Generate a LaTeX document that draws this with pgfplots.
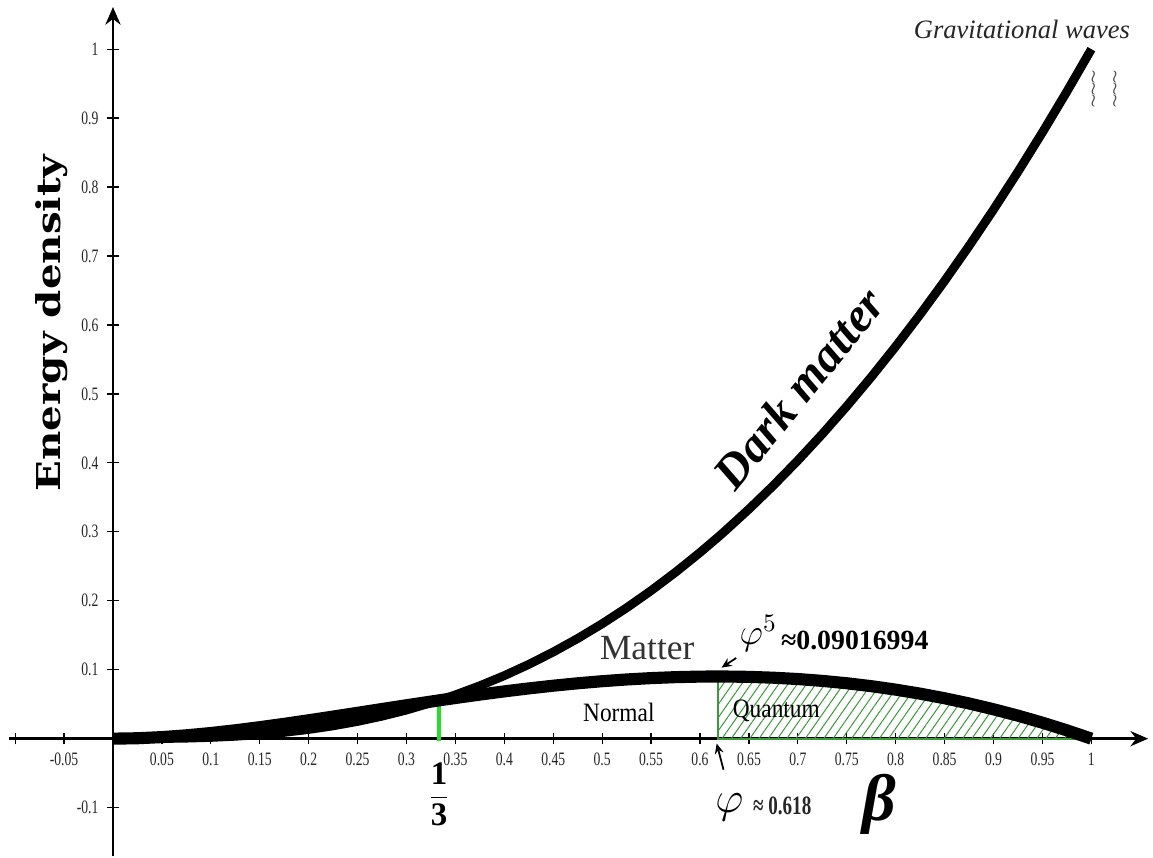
\documentclass[border=0pt]{standalone}
\usepackage{pgfplots}
\pgfplotsset{compat=1.18}
\usepackage{pgfplotstable}
\usepackage{fontspec}
\setmainfont{Liberation Serif}
\newfontfamily\narrowfont[FakeStretch=0.72]{Liberation Serif}
\newfontfamily\condfont[FakeStretch=0.88]{Liberation Serif}
\newfontfamily\ylabfont[FakeStretch=1.23]{DejaVu Serif}
\usetikzlibrary{arrows.meta,patterns.meta}
\definecolor{hatch}{HTML}{3A9A3A}
\definecolor{lime}{HTML}{22E022}

% b = beta, M = matter, D = dark matter
\pgfplotstableread{
b        M         D
0        0         0
0.025    0.000595  0.000030
0.05     0.002262  0.000238
0.075    0.004840  0.000785
0.1      0.008182  0.001818
0.125    0.012153  0.003472
0.15     0.016630  0.005870
0.175    0.021503  0.009122
0.2      0.026667  0.013333
0.225    0.032028  0.018597
0.25     0.037500  0.025000
0.275    0.043002  0.032623
0.3      0.048462  0.041538
0.33333  0.055556  0.055556
0.35     0.058981  0.063519
0.375    0.063920  0.076705
0.4      0.068571  0.091429
0.425    0.072884  0.107741
0.45     0.076810  0.125690
0.475    0.080308  0.145318
0.5      0.083333  0.166667
0.525    0.085850  0.189775
0.55     0.087823  0.214677
0.575    0.089216  0.241409
0.6      0.090000  0.270000
0.618034 0.090170  0.291796
0.625    0.090144  0.300481
0.65     0.089621  0.332879
0.675    0.088405  0.367220
0.7      0.086471  0.403529
0.725    0.083795  0.441830
0.75     0.080357  0.482143
0.775    0.076135  0.524489
0.8      0.071111  0.568889
0.825    0.065266  0.615360
0.85     0.058581  0.663919
0.875    0.051042  0.714583
0.9      0.042632  0.767368
0.925    0.033336  0.822289
0.95     0.023141  0.879359
0.975    0.012033  0.938592
1        0         1
}\curves

\begin{document}
\begin{tikzpicture}
\begin{axis}[
    scale only axis,
    width=16cm, height=11.893cm,
    xmin=-0.1142, xmax=1.0617,
    ymin=-0.1708, ymax=1.0695,
    axis lines=middle,
    axis line style={line width=1pt},
    x axis line style={shorten <=0.11cm, shorten >=0.05cm, -{Stealth[length=7pt,width=6pt]}},
    y axis line style={shorten >=0.08cm, -{Stealth[length=7pt,width=6pt]}},
    xtick={-0.05,0.05,0.1,0.15,0.2,0.25,0.3,0.35,0.4,0.45,0.5,0.55,0.6,0.65,0.7,0.75,0.8,0.85,0.9,0.95,1},
    xticklabels={-0.05,0.05,0.1,0.15,0.2,0.25,0.3,0.35,0.4,0.45,0.5,0.55,0.6,0.65,0.7,0.75,0.8,0.85,0.9,0.95,1},
    extra x ticks={-0.1}, extra x tick labels={},
    ytick={-0.1,0.1,0.2,0.3,0.4,0.5,0.6,0.7,0.8,0.9,1},
    yticklabels={-0.1,0.1,0.2,0.3,0.4,0.5,0.6,0.7,0.8,0.9,1},
    tick align=center,
    major tick length=4.5pt,
    tick style={black, line width=0.5pt},
    xticklabel style={font=\narrowfont\fontsize{7.5}{8}\selectfont, text=black!85},
    yticklabel style={font=\narrowfont\fontsize{7.5}{8}\selectfont, text=black!85},
    clip=false,
]
% quantum region
\addplot[draw=none, mark=none, pattern={Lines[angle=55,distance=3pt,line width=0.4pt]}, pattern color=hatch]
    table[x=b, y=M, restrict x to domain=0.618:1.01] {\curves} \closedcycle;
\addplot[hatch, line width=0.8pt, mark=none] coordinates {(0.618034,0.0902) (0.618034,0) (0.985,0)};
\addplot[lime, line width=1.3pt, mark=none] coordinates {(0.33333,-0.004) (0.33333,0.051)};

% curves
\addplot[black, line width=4.8pt, line join=round, mark=none] table[x=b, y=M] {\curves};
\addplot[black, line width=3.5pt, line join=round, mark=none] table[x=b, y=D] {\curves};

% labels
\node[rotate=90, font=\ylabfont\bfseries\fontsize{13}{15}\selectfont] at (-0.063,0.603) {Energy density};
\node[font=\itshape\fontsize{10.5}{12}\selectfont, text=black!85] at (0.929,1.029) {Gravitational waves};
% wave squiggles
\node[font=\scriptsize, text=black!75, inner sep=0pt] at (1.002,0.960) {$\wr$};
\node[font=\scriptsize, text=black!75, inner sep=0pt] at (1.002,0.942) {$\wr$};
\node[font=\scriptsize, text=black!75, inner sep=0pt] at (1.002,0.924) {$\wr$};
\node[font=\scriptsize, text=black!75, inner sep=0pt] at (1.024,0.960) {$\wr$};
\node[font=\scriptsize, text=black!75, inner sep=0pt] at (1.024,0.942) {$\wr$};
\node[font=\scriptsize, text=black!75, inner sep=0pt] at (1.024,0.924) {$\wr$};
\node[rotate=51, font=\bfseries\itshape\fontsize{19}{21}\selectfont] at (0.701,0.508) {Dark matter};
\node[font=\fontsize{14}{16}\selectfont, text=black!80] at (0.546,0.132) {Matter};
\node[anchor=base west, inner sep=0pt] at (0.640,0.129)
    {{\fontsize{14}{16}\selectfont\raisebox{2pt}{$\varphi^5$}}\,{\bfseries\fontsize{11}{13}\selectfont ≈0.09016994}};
\draw[-{Stealth[length=4pt,width=3.5pt]}, line width=0.7pt] (0.637,0.117) -- (0.622,0.103);
\node[font=\condfont\fontsize{10.5}{12}\selectfont] at (0.517,0.0376) {Normal};
\node[font=\condfont\fontsize{10.5}{12}\selectfont] at (0.678,0.0405) {Quantum};
\node[font=\fontsize{13}{15}\selectfont] at (0.3333,-0.081) {$\displaystyle\frac{\mathbf{1}}{\mathbf{3}}$};
\draw[-{Stealth[length=4pt,width=3.5pt]}, line width=0.7pt] (0.624,-0.045) -- (0.617,-0.007);
\node[font=\fontsize{17}{19}\selectfont] at (0.630,-0.100) {$\varphi$};
\node[font=\narrowfont\bfseries\fontsize{10.5}{12}\selectfont, text=black!85] at (0.684,-0.097) {≈ 0.618};
\node[font=\bfseries\itshape\fontsize{26}{28}\selectfont] at (0.783,-0.096) {β};
\end{axis}
\end{tikzpicture}
\end{document}
